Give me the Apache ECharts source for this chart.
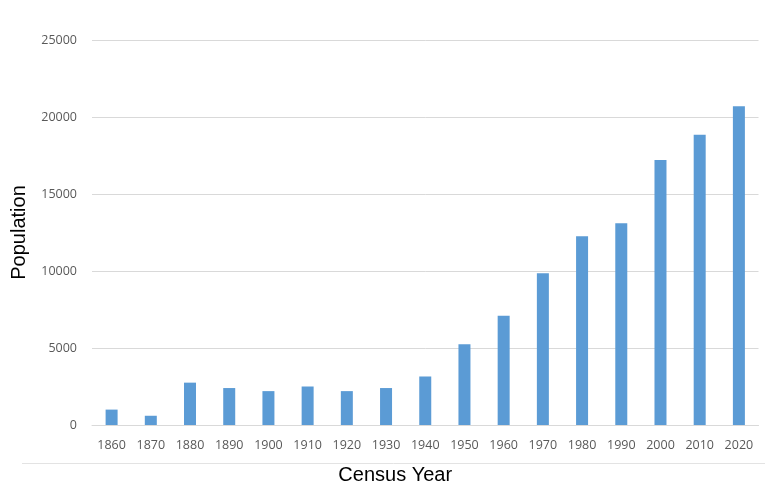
<!DOCTYPE html>
<html>
<head>
<meta charset="utf-8">
<script src="https://cdn.jsdelivr.net/npm/echarts@6/dist/echarts.min.js"></script>
<style>
html,body{margin:0;padding:0;background:#fff;}
#chart{width:765px;height:482px;}
</style>
</head>
<body>
<div id="chart"></div>
<script>
const years = ['1860','1870','1880','1890','1900','1910','1920','1930','1940','1950','1960','1970','1980','1990','2000','2010','2020'];
const population = [1000, 600, 2750, 2400, 2200, 2500, 2200, 2400, 3150, 5250, 7100, 9850, 12250, 13100, 17200, 18850, 20700];
const yTicks = [0, 5000, 10000, 15000, 20000, 25000];

const chart = echarts.init(document.getElementById('chart'));
chart.setOption({
  backgroundColor: '#ffffff',
  animation: false,
  grid: { left: 92, right: 6.5, top: 40, bottom: 57, containLabel: false, outerBoundsMode: 'none' },
  xAxis: {
    type: 'category',
    data: years,
    name: 'Census Year',
    nameLocation: 'middle',
    nameGap: 40,
    nameMoveOverlap: false,
    nameTextStyle: { color: '#000000', fontSize: 20, fontFamily: 'Liberation Sans, Arial, sans-serif', padding: [0, 60, 0, 0] },
    axisLine: { show: true, lineStyle: { color: '#D9D9D9', width: 1 } },
    axisTick: { show: false },
    axisLabel: { color: '#595959', fontSize: 12.5, margin: 14, fontFamily: 'Open Sans, Liberation Sans, sans-serif', interval: 0 }
  },
  yAxis: {
    type: 'value',
    min: yTicks[0],
    max: yTicks[yTicks.length - 1],
    interval: yTicks[1] - yTicks[0],
    name: 'Population',
    nameLocation: 'middle',
    nameGap: 63,
    nameMoveOverlap: false,
    nameTextStyle: { color: '#000000', fontSize: 20, fontFamily: 'Liberation Sans, Arial, sans-serif' },
    axisLine: { show: false },
    axisTick: { show: false },
    splitLine: { lineStyle: { color: '#D9D9D9', width: 1 } },
    axisLabel: { color: '#595959', fontSize: 12.5, margin: 15, fontFamily: 'Open Sans, Liberation Sans, sans-serif', formatter: v => String(v) }
  },
  series: [{
    type: 'bar',
    data: population,
    barWidth: 12,
    itemStyle: { color: '#5B9BD5' }
  }],
  graphic: [{
    type: 'line',
    shape: { x1: 22, y1: 463.5, x2: 765, y2: 463.5 },
    style: { stroke: '#E3E3E3', lineWidth: 1 },
    silent: true
  }]
});
</script>
</body>
</html>
